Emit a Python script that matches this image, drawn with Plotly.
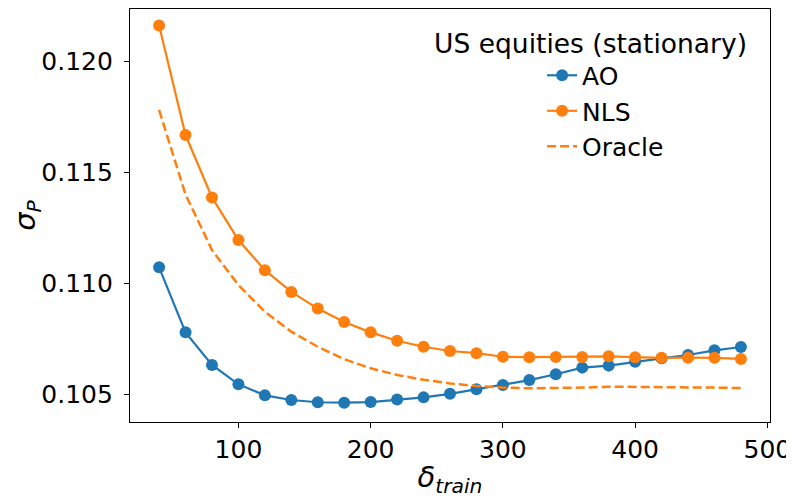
import plotly.graph_objects as go

delta_train = [40, 60, 80, 100, 120, 140, 160, 180, 200, 220, 240, 260,
               280, 300, 320, 340, 360, 380, 400, 420, 440, 460, 480]

ao = [0.11072, 0.10779, 0.10632, 0.10545, 0.10495, 0.10474, 0.10464, 0.10462,
      0.10465, 0.10476, 0.10486, 0.10502, 0.10523, 0.10542, 0.10564, 0.10590,
      0.10620, 0.10629, 0.10647, 0.10662, 0.10677, 0.10698, 0.10713]

nls = [0.12162, 0.11668, 0.11387, 0.11195, 0.11059, 0.10961, 0.10886, 0.10826,
       0.10779, 0.10741, 0.10714, 0.10695, 0.10685, 0.10669, 0.10667, 0.10668,
       0.10668, 0.10671, 0.10667, 0.10664, 0.10665, 0.10664, 0.10659]

oracle = [0.11781, 0.11400, 0.11150, 0.10992, 0.10872, 0.10782, 0.10714, 0.10658,
          0.10617, 0.10587, 0.10565, 0.10549, 0.10537, 0.10530, 0.10527, 0.10528,
          0.10530, 0.10534, 0.10532, 0.10531, 0.10531, 0.10530, 0.10528]

y_ticks = [0.105, 0.110, 0.115, 0.120]
x_ticks = [100, 200, 300, 400, 500]

BLUE = "#1f77b4"
ORANGE = "#ff7f0e"
FONT = "DejaVu Sans"

fig = go.Figure()
fig.add_trace(go.Scatter(x=delta_train, y=ao, name="AO", mode="lines+markers",
                         line=dict(color=BLUE, width=2.2),
                         marker=dict(color=BLUE, size=12)))
fig.add_trace(go.Scatter(x=delta_train, y=nls, name="NLS", mode="lines+markers",
                         line=dict(color=ORANGE, width=2.2),
                         marker=dict(color=ORANGE, size=12)))
fig.add_trace(go.Scatter(x=delta_train, y=oracle, name="Oracle", mode="lines",
                         line=dict(color=ORANGE, width=2.5, dash="9px,4px")))

axis_common = dict(showline=True, linecolor="black", linewidth=1.2, mirror=True,
                   ticks="outside", ticklen=5, tickwidth=1.2, tickcolor="black",
                   showgrid=False, zeroline=False,
                   tickfont=dict(family=FONT, size=25, color="black"))

fig.update_xaxes(range=[18, 502], tickvals=x_ticks, ticktext=[str(v) for v in x_ticks],
                 title=dict(text="<i>δ</i><sub><i>train</i></sub>",
                            font=dict(family=FONT, size=29, color="black"), standoff=10),
                 **axis_common)
fig.update_yaxes(range=[0.10375, 0.12236], tickvals=y_ticks,
                 ticktext=[f"{v:.3f}" for v in y_ticks], ticklabelstandoff=6,
                 **axis_common)

# y-axis title placed as a rotated annotation beside the axis
fig.add_annotation(text="<i>σ</i><sub><i>P</i></sub>", textangle=-90,
                   xref="paper", yref="paper", x=-0.162, y=0.5,
                   xanchor="center", yanchor="middle", showarrow=False,
                   borderpad=0,
                   font=dict(family=FONT, size=29, color="black"))

# page body has an 8px margin; figure sized/margined so the plot area lands
# at x 130..770, y 9..422 of the 794x498 window
fig.update_layout(
    width=786, height=490,
    margin=dict(l=122, r=24, t=1, b=76, autoexpand=False),
    plot_bgcolor="white", paper_bgcolor="white",
    font=dict(family=FONT, color="black"),
    legend=dict(x=0.472, y=0.978, xanchor="left", yanchor="top",
                bgcolor="rgba(255,255,255,0)", borderwidth=0,
                font=dict(family=FONT, size=25, color="black"),
                title=dict(text="US equities (stationary)", side="top",
                           font=dict(family=FONT, size=26.5, color="black")),
                indentation=110, tracegroupgap=0),
)

fig.write_html("out.html")
